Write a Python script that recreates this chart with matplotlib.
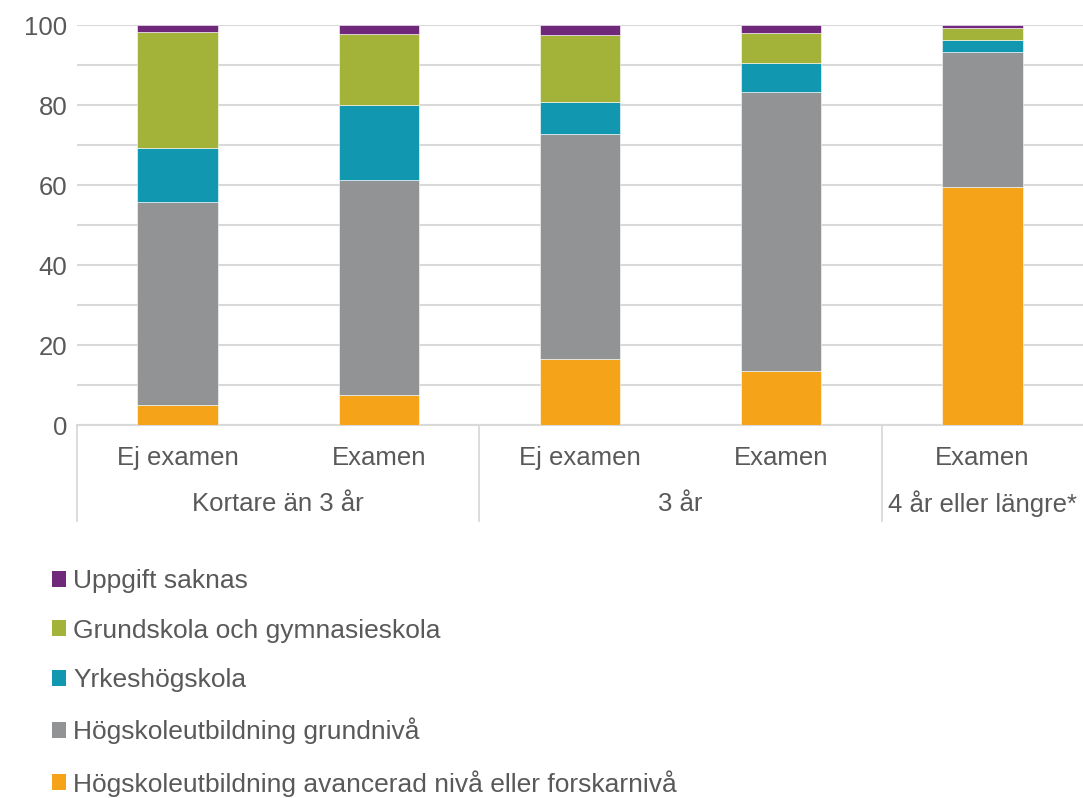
import matplotlib.pyplot as plt
from matplotlib.patches import Patch
from matplotlib.transforms import blended_transform_factory
import numpy as np

plt.rcParams['font.family'] = ['Liberation Sans', 'DejaVu Sans']

# data (percent)
bar_labels = ["Ej examen", "Examen", "Ej examen", "Examen", "Examen"]
group_labels = ["Kortare än 3 år", "3 år", "4 år eller längre*"]
group_spans = [(0, 1), (2, 3), (4, 4)]

avancerad = [5.0, 7.6, 16.5, 13.5, 59.6]
grundniva = [50.7, 53.7, 56.2, 69.7, 33.6]
yrkeshogskola = [13.5, 18.8, 8.1, 7.3, 3.1]
grundskola = [29.0, 17.7, 16.6, 7.6, 3.0]
saknas = [1.8, 2.2, 2.6, 1.9, 0.7]

series = [
    ("Högskoleutbildning avancerad nivå eller forskarnivå", avancerad, "#f5a41a"),
    ("Högskoleutbildning grundnivå", grundniva, "#929395"),
    ("Yrkeshögskola", yrkeshogskola, "#1197b0"),
    ("Grundskola och gymnasieskola", grundskola, "#a3b238"),
    ("Uppgift saknas", saknas, "#70287a"),
]

text_col = "#595959"
grid_col = "#d9d9d9"
fs = 18.5

fig = plt.figure(figsize=(10.83, 7.98), dpi=100)
ax = fig.add_axes([77 / 1083, 1 - 425 / 798, 1 - 77 / 1083, 400 / 798])

x = np.arange(len(bar_labels))
bottom = np.zeros(len(x))
for name, vals, col in series:
    ax.bar(x, vals, 0.4, bottom=bottom, color=col, edgecolor="white", linewidth=0.4, zorder=3)
    bottom += np.array(vals)

ax.set_xlim(-0.5, len(x) - 0.5)
ax.set_ylim(0, 100)
ax.set_yticks(range(0, 101, 20))
ax.set_yticks(range(0, 101, 10), minor=True)
ax.grid(axis="y", which="both", color=grid_col, linewidth=1.5, zorder=0)
ax.tick_params(axis="y", which="both", length=0, pad=7, labelsize=fs, labelcolor=text_col)
ax.set_xticks([])
for s in ["top", "right", "left"]:
    ax.spines[s].set_visible(False)
ax.spines["bottom"].set_color(grid_col)
ax.spines["bottom"].set_linewidth(1.5)

trans = blended_transform_factory(ax.transData, ax.transAxes)
for i, lab in enumerate(bar_labels):
    ax.text(i, -0.082, lab, transform=trans, ha="center", va="center",
            fontsize=fs, color=text_col)
for lab, (a, b) in zip(group_labels, group_spans):
    ax.text((a + b) / 2, -0.197, lab, transform=trans, ha="center", va="center",
            fontsize=fs, color=text_col)
for sep in [-0.5, 1.5, 3.5]:
    ax.plot([sep, sep], [0, -0.24], transform=trans, color=grid_col,
            linewidth=1.3, clip_on=False)

handles = [Patch(facecolor=col, label=name) for name, vals, col in series][::-1]
fig.legend(handles=handles, loc="upper left", bbox_to_anchor=(0.048, 0.287),
           frameon=False, fontsize=19, labelcolor=text_col, ncol=1,
           handlelength=0.55, handleheight=0.55, handletextpad=0.25,
           labelspacing=0.97, borderpad=0, borderaxespad=0)

fig.savefig("out.png", dpi=100)
